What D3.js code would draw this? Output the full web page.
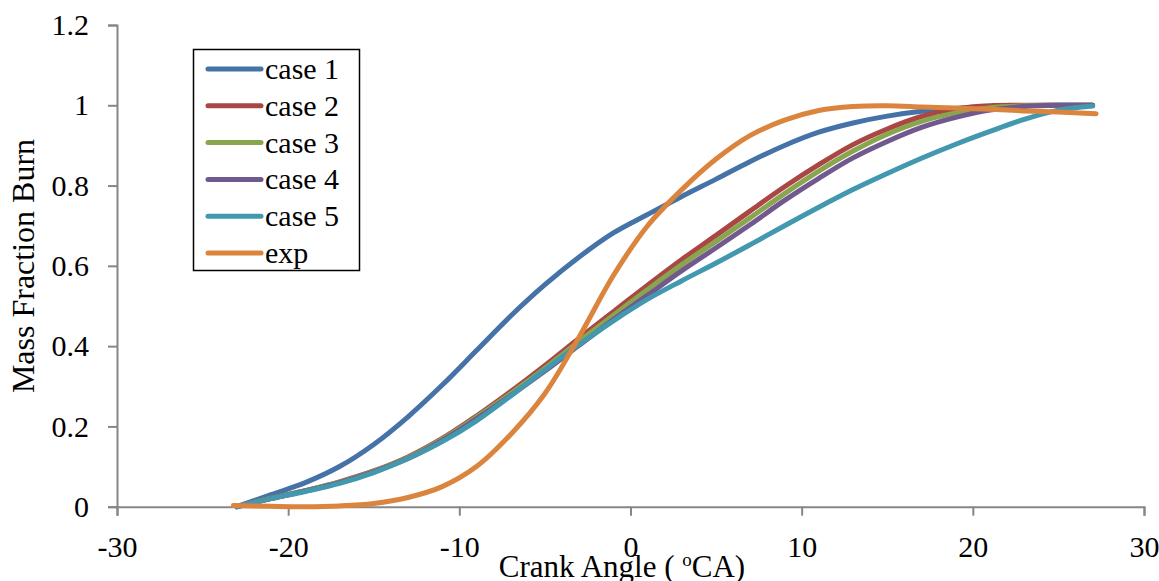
<!DOCTYPE html>
<html><head><meta charset="utf-8">
<script src="https://cdn.jsdelivr.net/npm/d3@7"></script>
<style>body{margin:0;background:#fff}svg{display:block}text{font-family:"Liberation Serif","Times New Roman",serif;fill:#000}</style>
</head><body><svg id="c" width="1159" height="581"></svg>
<script>
const crankAngle = [-23,-21,-19,-17,-15,-13,-11,-9,-7,-5,-3,-1,1,3,5,7,9,11,13,15,17,19,21,23,25,27];
const case1 = [0,0.030,0.060,0.100,0.155,0.224,0.303,0.389,0.475,0.553,0.622,0.682,0.728,0.773,0.816,0.860,0.900,0.933,0.956,0.973,0.985,0.992,0.997,0.999,1.0,1.0];
const case2 = [0,0.021,0.040,0.062,0.089,0.124,0.170,0.226,0.287,0.352,0.420,0.486,0.552,0.616,0.676,0.737,0.797,0.852,0.902,0.941,0.972,0.991,0.999,1.0,1.0,1.0];
const case3 = [0,0.021,0.040,0.061,0.088,0.122,0.168,0.223,0.282,0.345,0.412,0.477,0.541,0.603,0.661,0.720,0.780,0.836,0.886,0.928,0.960,0.981,0.994,0.999,1.0,1.0];
const case4 = [0,0.020,0.039,0.060,0.087,0.120,0.165,0.219,0.277,0.338,0.402,0.466,0.527,0.588,0.645,0.703,0.763,0.818,0.869,0.910,0.945,0.970,0.988,0.997,1.0,1.0];
const case5 = [0,0.020,0.038,0.058,0.085,0.120,0.162,0.214,0.276,0.341,0.404,0.463,0.517,0.563,0.607,0.653,0.700,0.746,0.790,0.830,0.868,0.903,0.935,0.965,0.988,0.998];
const expAngle = [-23.2,-21,-19,-17,-15,-13,-11,-9,-7,-5,-3,-1,1,3,5,7,9,11,13,15,17,19,21,23,25,27.2];
const exp = [0.003,0.001,0.0,0.002,0.008,0.023,0.050,0.100,0.180,0.282,0.423,0.576,0.700,0.790,0.866,0.925,0.963,0.987,0.997,0.999,0.996,0.993,0.990,0.986,0.983,0.979];
const seriesNames = ["case 1","case 2","case 3","case 4","case 5","exp"];
const seriesColors = ["#4572A7","#AA4643","#89A54E","#71588F","#4198AF","#DB843D"];
const xTicks = [-30,-20,-10,0,10,20,30];
const yTicks = [0,0.2,0.4,0.6,0.8,1,1.2];

const series = [
  {name:seriesNames[0], xs:crankAngle, ys:case1, color:seriesColors[0]},
  {name:seriesNames[1], xs:crankAngle, ys:case2, color:seriesColors[1]},
  {name:seriesNames[2], xs:crankAngle, ys:case3, color:seriesColors[2]},
  {name:seriesNames[3], xs:crankAngle, ys:case4, color:seriesColors[3]},
  {name:seriesNames[4], xs:crankAngle, ys:case5, color:seriesColors[4]},
  {name:seriesNames[5], xs:expAngle, ys:exp, color:seriesColors[5]}
];

const svg = d3.select("#c");
const x = d3.scaleLinear().domain([-30,30]).range([117,1144]);
const y = d3.scaleLinear().domain([0,1.2]).range([506.7,25]);
const axisColor = "#868686";
const fs = 30;

// y axis
const yAxis = svg.append("g").attr("transform","translate(117,0)")
  .call(d3.axisLeft(y).tickValues(yTicks).tickSize(9).tickPadding(19).tickFormat(d=>String(+d.toFixed(1))));
yAxis.select(".domain").attr("stroke",axisColor).attr("stroke-width",2);
yAxis.selectAll(".tick line").attr("stroke",axisColor).attr("stroke-width",2);
yAxis.selectAll(".tick text").attr("font-size",fs).attr("font-family","Liberation Serif").attr("fill","#000");

// x axis
const xAxis = svg.append("g").attr("transform","translate(0,506.7)")
  .call(d3.axisBottom(x).tickValues(xTicks).tickSize(9).tickPadding(20).tickFormat(d=>String(d)));
xAxis.select(".domain").attr("stroke",axisColor).attr("stroke-width",2);
xAxis.selectAll(".tick line").attr("stroke",axisColor).attr("stroke-width",2);
xAxis.selectAll(".tick text").attr("font-size",fs).attr("font-family","Liberation Serif").attr("fill","#000");

// lines
const line = d3.line().curve(d3.curveCatmullRom.alpha(0.5));
svg.append("g").selectAll("path").data(series).join("path")
  .attr("d", s => line(s.xs.map((v,i)=>[x(v), y(s.ys[i])])))
  .attr("fill","none").attr("stroke",s=>s.color).attr("stroke-width",5)
  .attr("stroke-linecap","round").attr("stroke-linejoin","round");

// axis titles
const xt = svg.append("text").attr("x",622).attr("y",577).attr("text-anchor","middle").attr("font-size",31);
xt.append("tspan").text("Crank Angle ( ");
xt.append("tspan").attr("font-size",19).attr("dy",-11).text("o");
xt.append("tspan").attr("dy",11).text("CA)");

svg.append("text").attr("transform","translate(34,266) rotate(-90)").attr("text-anchor","middle").attr("font-size",32).text("Mass Fraction Burn");

// legend
const lg = svg.append("g");
lg.append("rect").attr("x",193.5).attr("y",49.5).attr("width",166).attr("height",221).attr("fill","#fff").attr("stroke","#000").attr("stroke-width",1.5);
const row = lg.selectAll("g.row").data(series).join("g").attr("class","row")
  .attr("transform",(d,i)=>`translate(0,${69+i*36.8})`);
row.append("line").attr("x1",208).attr("x2",261).attr("stroke",d=>d.color).attr("stroke-width",5).attr("stroke-linecap","round");
row.append("text").attr("x",265).attr("y",10).attr("font-size",fs).text(d=>d.name);
</script></body></html>
